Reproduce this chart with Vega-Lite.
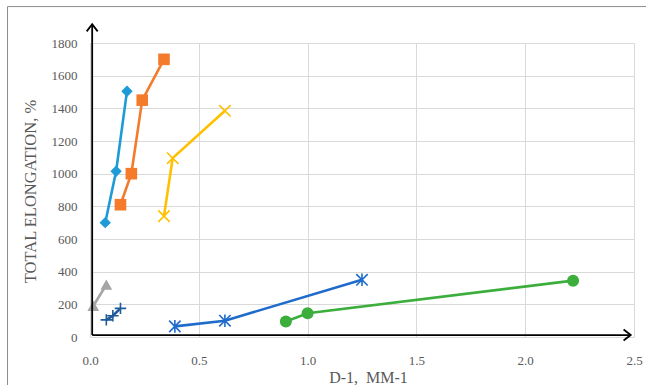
{
  "$schema": "https://vega.github.io/schema/vega-lite/v6.json",
  "width": 544,
  "height": 294,
  "autosize": {"type": "none"},
  "padding": {"left": 90, "top": 43, "right": 12, "bottom": 48},
  "background": "white",
  "config": {
    "view": {"stroke": null},
    "font": "Liberation Serif",
    "style": {
      "guide-label": {"font": "Liberation Serif", "fontSize": 13, "fill": "#595959"},
      "guide-title": {"font": "Liberation Serif", "fill": "#595959", "fontWeight": "normal"}
    },
    "axis": {"grid": true, "gridColor": "#d9d9d9", "gridWidth": 1, "domain": false, "ticks": false, "tickSize": 0,
      "labelFont": "Liberation Serif", "labelFontSize": 13, "labelColor": "#595959", "labelFlush": false, "labelOverlap": false,
      "titleFont": "Liberation Serif", "titleFontWeight": "normal", "titleColor": "#595959",
      "titleBaseline": "middle", "titleAlign": "center"},
    "axisX": {"labelPadding": 17, "tickCount": 5, "labelExpr": "format(datum.value, '.1f')", "titleX": 278, "titleY": 40,
      "titleFontSize": 16},
    "axisY": {"labelPadding": 13, "tickCount": 9, "labelExpr": "format(datum.value, 'd')", "titleX": -60, "titleY": 148,
      "titleFontSize": 16.5}
  },
  "resolve": {"scale": {"shape": "independent", "size": "independent"}},
  "data": {"values": [
    {"series": "A", "i": 1, "d": 0.07, "e": 700},
    {"series": "A", "i": 2, "d": 0.12, "e": 1015},
    {"series": "A", "i": 3, "d": 0.17, "e": 1505},
    {"series": "B", "i": 1, "d": 0.14, "e": 810},
    {"series": "B", "i": 2, "d": 0.19, "e": 1000},
    {"series": "B", "i": 3, "d": 0.24, "e": 1450},
    {"series": "B", "i": 4, "d": 0.34, "e": 1700},
    {"series": "C", "i": 1, "d": 0.34, "e": 740},
    {"series": "C", "i": 2, "d": 0.38, "e": 1095},
    {"series": "C", "i": 3, "d": 0.62, "e": 1385},
    {"series": "D", "i": 1, "d": 0.015, "e": 190},
    {"series": "D", "i": 2, "d": 0.075, "e": 320},
    {"series": "E", "i": 1, "d": 0.075, "e": 105},
    {"series": "E", "i": 2, "d": 0.105, "e": 130},
    {"series": "E", "i": 3, "d": 0.14, "e": 175},
    {"series": "F", "i": 1, "d": 0.39, "e": 65},
    {"series": "F", "i": 2, "d": 0.62, "e": 100},
    {"series": "F", "i": 3, "d": 1.25, "e": 350},
    {"series": "G", "i": 1, "d": 0.9, "e": 95},
    {"series": "G", "i": 2, "d": 1.0, "e": 145},
    {"series": "G", "i": 3, "d": 2.22, "e": 345}
  ]},
  "layer": [
    {
      "mark": {"type": "line", "strokeWidth": 2.6},
      "encoding": {
        "x": {"field": "d", "type": "quantitative", "title": "D-1,\u00a0 MM-1",
          "scale": {"domain": [0, 2.5], "nice": false, "zero": false}},
        "y": {"field": "e", "type": "quantitative", "title": "TOTAL ELONGATION, %",
          "scale": {"domain": [0, 1800], "nice": false}},
        "color": {"field": "series", "type": "nominal",
          "scale": {"domain": ["A", "B", "C", "D", "E", "F", "G"],
            "range": ["#1E9BD7", "#F47B2B", "#FFC000", "#A5A5A5", "#1F5C99", "#1F6BCB", "#3BAE3B"]},
          "legend": null},
        "order": {"field": "i"}
      }
    },
    {
      "transform": [{"filter": {"field": "series", "oneOf": ["A", "B", "D", "G"]}}],
      "mark": {"type": "point", "filled": true, "opacity": 1},
      "encoding": {
        "x": {"field": "d", "type": "quantitative"},
        "y": {"field": "e", "type": "quantitative"},
        "color": {"field": "series", "type": "nominal", "legend": null},
        "shape": {"field": "series", "type": "nominal",
          "scale": {"domain": ["A", "B", "D", "G"], "range": ["diamond", "square", "triangle-up", "circle"]},
          "legend": null},
        "size": {"field": "series", "type": "nominal",
          "scale": {"domain": ["A", "B", "D", "G"], "range": [130, 144, 130, 135]},
          "legend": null}
      }
    },
    {
      "transform": [{"filter": {"field": "series", "oneOf": ["C", "E", "F"]}}],
      "mark": {"type": "point", "filled": false, "opacity": 1, "strokeWidth": 1.6},
      "encoding": {
        "x": {"field": "d", "type": "quantitative"},
        "y": {"field": "e", "type": "quantitative"},
        "color": {"field": "series", "type": "nominal", "legend": null},
        "shape": {"field": "series", "type": "nominal",
          "scale": {"domain": ["C", "E", "F"],
            "range": ["M-1,-1L1,1M-1,1L1,-1", "M-1,0L1,0M0,-1L0,1", "M-1,-1L1,1M-1,1L1,-1M0,-1.1L0,1.1"]},
          "legend": null},
        "size": {"value": 130}
      }
    },
    {
      "data": {"values": [{}]},
      "mark": {"type": "rule", "color": "black", "strokeWidth": 1.8},
      "encoding": {"x": {"datum": 0.01, "type": "quantitative"}, "y": {"datum": 12, "type": "quantitative"}, "y2": {"datum": 1915}}
    },
    {
      "data": {"values": [{}]},
      "mark": {"type": "rule", "color": "black", "strokeWidth": 1.8},
      "encoding": {"x": {"datum": 0.01, "type": "quantitative"}, "x2": {"datum": 2.485}, "y": {"datum": 12, "type": "quantitative"}}
    },
    {
      "data": {"values": [{}]},
      "mark": {"type": "point", "shape": "M-1,1.3L0,0L1,1.3", "size": 121, "filled": false, "stroke": "black", "strokeWidth": 1.8, "opacity": 1},
      "encoding": {"x": {"datum": 0.01, "type": "quantitative"}, "y": {"datum": 1915, "type": "quantitative"}}
    },
    {
      "data": {"values": [{}]},
      "mark": {"type": "point", "shape": "M-1.3,-1L0,0L-1.3,1", "size": 121, "filled": false, "stroke": "black", "strokeWidth": 1.8, "opacity": 1},
      "encoding": {"x": {"datum": 2.485, "type": "quantitative"}, "y": {"datum": 12, "type": "quantitative"}}
    },
    {
      "data": {"values": [{}]},
      "mark": {"type": "rule", "color": "#8c8c8c", "strokeWidth": 1},
      "encoding": {"x": {"datum": -0.379, "type": "quantitative"}, "x2": {"datum": 2.8}, "y": {"datum": 2023, "type": "quantitative"}}
    },
    {
      "data": {"values": [{}]},
      "mark": {"type": "rule", "color": "#8c8c8c", "strokeWidth": 1},
      "encoding": {"x": {"datum": -0.379, "type": "quantitative"}, "y": {"datum": -400, "type": "quantitative"}, "y2": {"datum": 2023}}
    }
  ]
}
